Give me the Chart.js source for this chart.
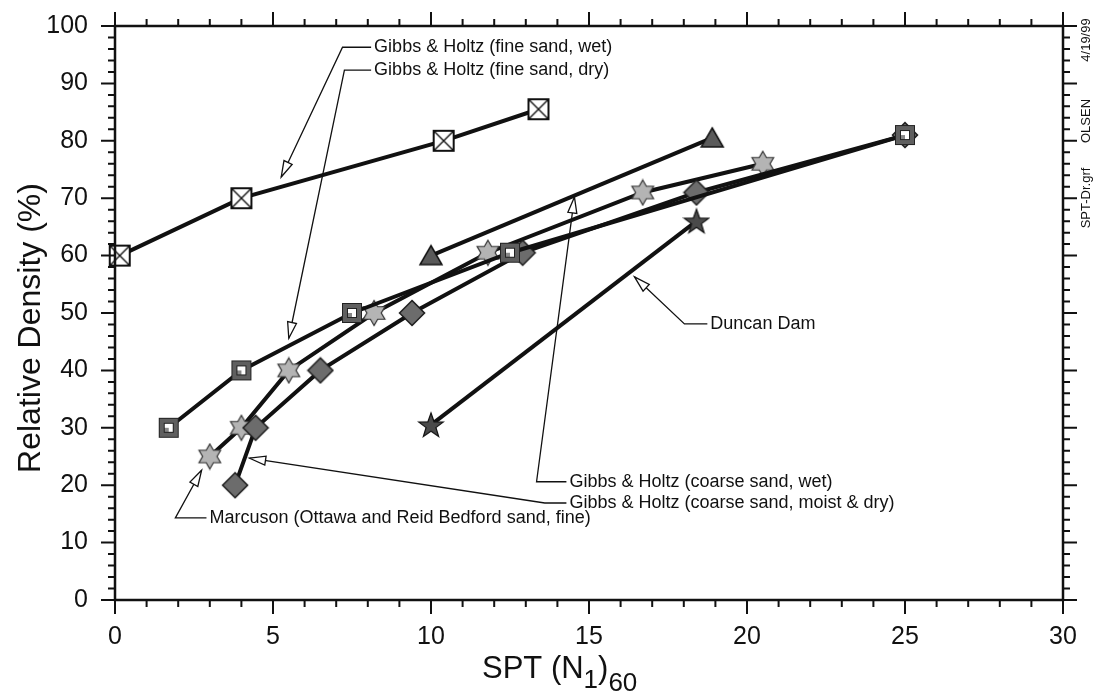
<!DOCTYPE html>
<html>
<head>
<meta charset="utf-8">
<script src="https://cdn.jsdelivr.net/npm/chart.js@4/dist/chart.umd.min.js"></script>
<style>
  html, body { margin: 0; padding: 0; background: #fff; }
</style>
</head>
<body>
<canvas id="chart" width="1100" height="697"></canvas>
<script>
// values: SPT (N1)60 vs relative density %
var fineWetX = [0.15, 4.0, 10.4, 13.4];
var fineWetY = [60, 70, 80, 85.5];
var fineDryX = [1.7, 4.0, 7.5, 12.5, 25.0];
var fineDryY = [30, 40, 50, 60.5, 81];
var coarseWetX = [10.0, 18.9];
var coarseWetY = [60, 80.5];
var coarseDryX = [3.8, 4.45, 6.5, 9.4, 12.9, 18.4, 25.0];
var coarseDryY = [20, 30, 40, 50, 60.5, 71, 81];
var marcusonX = [3.0, 4.0, 5.5, 8.2, 11.8, 16.7, 20.5];
var marcusonY = [25, 30, 40, 50, 60.5, 71, 76];
var duncanX = [10.0, 18.4];
var duncanY = [30.5, 66];

var xTicks = [0, 5, 10, 15, 20, 25, 30];
var yTicks = [0, 10, 20, 30, 40, 50, 60, 70, 80, 90, 100];

// callouts: text, where text starts [x,y], elbow [x,y], arrow tip [x,y] (data units)
var callouts = [
  ['Gibbs & Holtz (fine sand, wet)', [8.2, 96.3], [7.2, 96.3], [5.26, 73.7]],
  ['Gibbs & Holtz (fine sand, dry)', [8.2, 92.3], [7.26, 92.3], [5.5, 45.6]],
  ['Gibbs & Holtz (coarse sand, wet)', [14.38, 20.6], [13.34, 20.6], [14.54, 70.2]],
  ['Gibbs & Holtz (coarse sand, moist & dry)', [14.38, 16.9], [13.6, 16.9], [4.26, 24.7]],
  ['Duncan Dam', [18.84, 48.1], [18.02, 48.1], [16.44, 56.3]],
  ['Marcuson (Ottawa and Reid Bedford sand, fine)', [2.99, 14.3], [1.91, 14.3], [2.74, 22.6]]
];

function pts(xs, ys) {
  var out = [];
  for (var i = 0; i < xs.length; i++) out.push({x: xs[i], y: ys[i]});
  return out;
}

function marker(size, draw) {
  var c = document.createElement('canvas');
  c.width = size; c.height = size;
  draw(c.getContext('2d'), size);
  return c;
}

function starPath(g, cx, cy, n, R, r) {
  g.beginPath();
  for (var i = 0; i < n * 2; i++) {
    var a = -Math.PI / 2 + i * Math.PI / n;
    var rad = i % 2 === 0 ? R : r;
    g.lineTo(cx + rad * Math.cos(a), cy + rad * Math.sin(a));
  }
  g.closePath();
}

var boxX = marker(24, function(g) {
  g.fillStyle = '#fff';
  g.fillRect(2, 2, 20, 20);
  g.strokeStyle = '#111';
  g.lineWidth = 2;
  g.strokeRect(2, 2, 20, 20);
  g.lineWidth = 1.4;
  g.beginPath();
  g.moveTo(3, 3); g.lineTo(21, 21);
  g.moveTo(21, 3); g.lineTo(3, 21);
  g.stroke();
});

var boxDotted = marker(24, function(g) {
  g.fillStyle = '#5f5f5f';
  g.fillRect(2, 2, 20, 20);
  g.strokeStyle = '#222';
  g.lineWidth = 1;
  g.strokeRect(2.5, 2.5, 19, 19);
  g.fillStyle = '#fff';
  g.fillRect(7, 7, 10, 10);
  g.strokeRect(7.5, 7.5, 9, 9);
  g.fillStyle = '#888';
  g.fillRect(8, 12, 4, 4);
});

var diamond = marker(28, function(g) {
  g.beginPath();
  g.moveTo(14, 1.5); g.lineTo(26.5, 14); g.lineTo(14, 26.5); g.lineTo(1.5, 14);
  g.closePath();
  g.fillStyle = '#6c6c6c';
  g.fill();
  g.strokeStyle = '#1a1a1a';
  g.lineWidth = 1.5;
  g.stroke();
});

var triangle = marker(26, function(g) {
  g.beginPath();
  g.moveTo(13, 3); g.lineTo(24, 22); g.lineTo(2, 22);
  g.closePath();
  g.fillStyle = '#5a5a5a';
  g.fill();
  g.strokeStyle = '#111';
  g.lineWidth = 1.5;
  g.stroke();
});

var star6 = marker(28, function(g) {
  starPath(g, 14, 14, 6, 12.5, 7.2);
  g.fillStyle = '#b4b4b4';
  g.fill();
  g.strokeStyle = '#333';
  g.lineWidth = 1.2;
  g.stroke();
});

var star5 = marker(28, function(g) {
  starPath(g, 14, 15, 5, 13, 5.2);
  g.fillStyle = '#4a4a4a';
  g.fill();
  g.strokeStyle = '#111';
  g.lineWidth = 1.2;
  g.stroke();
});

function series(label, xs, ys, style) {
  return {
    label: label,
    data: pts(xs, ys),
    showLine: true,
    borderColor: '#111',
    borderWidth: 4,
    pointStyle: style,
    pointRadius: 10,
    clip: false
  };
}

var FONT = '"Liberation Sans", Arial, sans-serif';

var frame = {
  id: 'frame',
  afterDatasetsDraw: function(chart) {
    var ctx = chart.ctx;
    var xs = chart.scales.x, ys = chart.scales.y;
    var a = chart.chartArea;
    ctx.save();
    ctx.strokeStyle = '#111';
    ctx.lineWidth = 2.5;
    ctx.strokeRect(a.left, a.top, a.right - a.left, a.bottom - a.top);

    // outward ticks on all four sides
    ctx.lineWidth = 2;
    ctx.beginPath();
    for (var v = xs.min; v <= xs.max; v += 1) {
      var px = xs.getPixelForValue(v);
      var len = v % 5 === 0 ? 14 : 7;
      ctx.moveTo(px, a.bottom); ctx.lineTo(px, a.bottom + len);
      ctx.moveTo(px, a.top); ctx.lineTo(px, a.top - len);
    }
    for (var w = ys.min; w <= ys.max; w += 2) {
      var py = ys.getPixelForValue(w);
      var l2 = w % 10 === 0 ? 14 : 7;
      ctx.moveTo(a.left, py); ctx.lineTo(a.left - l2, py);
      ctx.moveTo(a.right, py); ctx.lineTo(a.right + l2, py);
    }
    ctx.stroke();

    // callouts with arrows
    ctx.lineWidth = 1.3;
    ctx.fillStyle = '#111';
    ctx.font = '18px ' + FONT;
    ctx.textBaseline = 'middle';
    callouts.forEach(function(c) {
      var tx = xs.getPixelForValue(c[1][0]), ty = ys.getPixelForValue(c[1][1]);
      var ex = xs.getPixelForValue(c[2][0]), ey = ys.getPixelForValue(c[2][1]);
      var hx = xs.getPixelForValue(c[3][0]), hy = ys.getPixelForValue(c[3][1]);
      ctx.beginPath();
      ctx.moveTo(tx - 3, ty); ctx.lineTo(ex, ey); ctx.lineTo(hx, hy);
      ctx.stroke();
      var ang = Math.atan2(hy - ey, hx - ex);
      var L = 16, W = 4.5;
      var bx = hx - L * Math.cos(ang), by = hy - L * Math.sin(ang);
      ctx.beginPath();
      ctx.moveTo(hx, hy);
      ctx.lineTo(bx + W * Math.sin(ang), by - W * Math.cos(ang));
      ctx.lineTo(bx - W * Math.sin(ang), by + W * Math.cos(ang));
      ctx.closePath();
      ctx.fillStyle = '#fff';
      ctx.fill();
      ctx.stroke();
      ctx.fillStyle = '#111';
      ctx.textAlign = 'left';
      ctx.fillText(c[0], tx, ty);
    });

    // axis titles
    ctx.font = '32px ' + FONT;
    ctx.save();
    ctx.translate(31, 328);
    ctx.rotate(-Math.PI / 2);
    ctx.textAlign = 'center';
    ctx.textBaseline = 'middle';
    ctx.fillText('Relative Density (%)', 0, 0);
    ctx.restore();

    ctx.textAlign = 'left';
    ctx.textBaseline = 'alphabetic';
    var x0 = 482, base = 678;
    ctx.font = '31px ' + FONT;
    ctx.fillText('SPT (N', x0, base);
    x0 += ctx.measureText('SPT (N').width;
    ctx.font = '26px ' + FONT;
    ctx.fillText('1', x0, base + 10);
    x0 += ctx.measureText('1').width;
    ctx.font = '31px ' + FONT;
    ctx.fillText(')', x0, base);
    x0 += ctx.measureText(')').width;
    ctx.font = '26px ' + FONT;
    ctx.fillText('60', x0, base + 13);

    // file stamp on the right
    ctx.save();
    ctx.translate(1086, 0);
    ctx.rotate(-Math.PI / 2);
    ctx.font = '13px ' + FONT;
    ctx.textAlign = 'center';
    ctx.textBaseline = 'middle';
    ctx.fillText('SPT-Dr.grf', -198, 0);
    ctx.fillText('OLSEN', -121, 0);
    ctx.fillText('4/19/99', -40, 0);
    ctx.restore();
    ctx.restore();
  }
};

var ctx = document.getElementById('chart');
var chart = new Chart(ctx, {
  type: 'scatter',
  data: {
    datasets: [
      series('Gibbs & Holtz (fine sand, wet)', fineWetX, fineWetY, boxX),
      series('Gibbs & Holtz (fine sand, dry)', fineDryX, fineDryY, boxDotted),
      series('Gibbs & Holtz (coarse sand, wet)', coarseWetX, coarseWetY, triangle),
      series('Gibbs & Holtz (coarse sand, moist & dry)', coarseDryX, coarseDryY, diamond),
      series('Marcuson (Ottawa and Reid Bedford sand, fine)', marcusonX, marcusonY, star6),
      series('Duncan Dam', duncanX, duncanY, star5)
    ]
  },
  options: {
    responsive: false,
    devicePixelRatio: 1,
    animation: false,
    layout: { padding: { top: 26, right: 37, left: 0, bottom: 0 } },
    plugins: { legend: { display: false }, tooltip: { enabled: false } },
    scales: {
      x: {
        type: 'linear', min: 0, max: 30,
        afterFit: function(s) { s.height = 97; s.paddingLeft = 0; s.paddingRight = 0; },
        afterBuildTicks: function(s) { s.ticks = xTicks.map(function(v) { return {value: v}; }); },
        grid: { display: false, drawTicks: false },
        border: { display: false },
        ticks: { padding: 22, color: '#111', font: { family: FONT, size: 25 } }
      },
      y: {
        type: 'linear', min: 0, max: 100,
        afterFit: function(s) { s.width = 115; s.paddingTop = 0; s.paddingBottom = 0; },
        afterBuildTicks: function(s) { s.ticks = yTicks.map(function(v) { return {value: v}; }); },
        grid: { display: false, drawTicks: false },
        border: { display: false },
        ticks: { padding: 27, color: '#111', font: { family: FONT, size: 25 } }
      }
    }
  },
  plugins: [frame]
});
</script>
</body>
</html>
